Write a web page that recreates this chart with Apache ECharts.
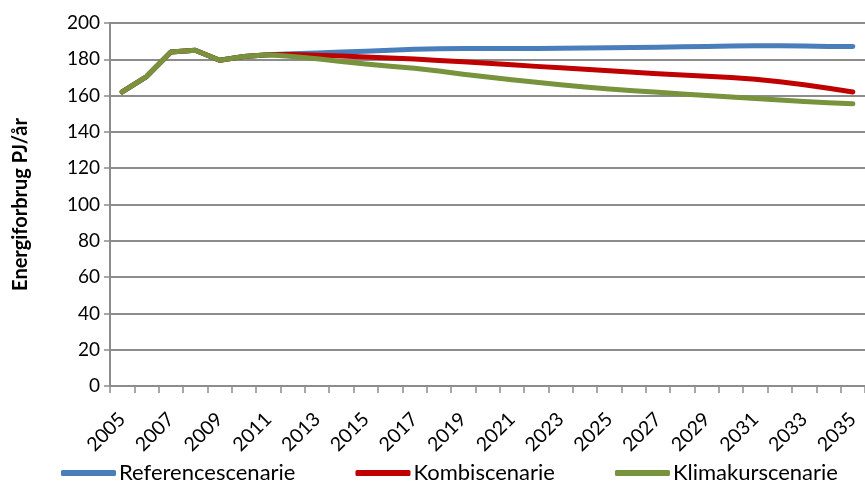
<!DOCTYPE html>
<html>
<head>
<meta charset="utf-8">
<script src="https://cdn.jsdelivr.net/npm/echarts@6/dist/echarts.min.js"></script>
<style>
  html, body { margin: 0; padding: 0; background: #fff; }
  #chart { width: 865px; height: 485px; }
</style>
</head>
<body>
<div id="chart"></div>
<script>
// Years on the category axis
const years = [];
for (let y = 2005; y <= 2035; y++) years.push(String(y));

// Energy use, PJ per year
const referencescenarie = [
  162, 170.5, 184, 185, 179.5, 181.5, 182.5, 183, 183.5, 184, 184.5,
  185, 185.5, 185.8, 185.9, 186, 186, 186, 186.1, 186.2, 186.3,
  186.5, 186.7, 186.9, 187.1, 187.3, 187.5, 187.5, 187.3, 187.1, 187
];
const kombiscenarie = [
  162, 170.5, 184, 185, 179.5, 181.5, 182.5, 182.6, 182.2, 181.8, 181.3,
  180.7, 180.1, 179.4, 178.6, 177.8, 177, 176.1, 175.3, 174.5, 173.7,
  172.9, 172.1, 171.4, 170.7, 170, 169, 167.6, 166, 164, 162
];
const klimakurscenarie = [
  162, 170.5, 184, 185, 179.5, 181.5, 182.5, 181.5, 180.3, 178.8, 177.4,
  176.2, 175.1, 173.6, 171.8, 170.2, 168.7, 167.3, 166, 164.8, 163.7,
  162.7, 161.8, 160.9, 160, 159.2, 158.4, 157.6, 156.8, 156.1, 155.5
];

const seriesNames = ['Referencescenarie', 'Kombiscenarie', 'Klimakurscenarie'];
const seriesColors = ['#4A7EBB', '#C00000', '#77933C'];
const seriesData = [referencescenarie, kombiscenarie, klimakurscenarie];

const font = 'Lato, "Open Sans", sans-serif';
const gridGray = '#8C8C8C';

const chart = echarts.init(document.getElementById('chart'), null, { renderer: 'canvas' });
chart.setOption({
  animation: false,
  backgroundColor: '#ffffff',
  textStyle: { fontFamily: font, color: '#000' },
  grid: { left: 110, right: -9, top: 23, bottom: 99, containLabel: false },
  legend: {
    bottom: -4,
    left: 56,
    itemWidth: 55,
    itemHeight: 6,
    itemGap: 60,
    icon: 'roundRect',
    textStyle: { fontFamily: font, fontSize: 22, color: '#000', padding: [0, 0, 0, -2] },
    data: seriesNames
  },
  xAxis: {
    type: 'category',
    data: years,
    boundaryGap: true,
    axisLine: { lineStyle: { color: gridGray, width: 2 } },
    axisTick: { show: true, interval: 0, length: 7, lineStyle: { color: gridGray, width: 1.5 } },
    axisLabel: {
      interval: 1,
      rotate: 45,
      fontFamily: font,
      fontSize: 19.5,
      color: '#000',
      margin: 30
    },
    splitLine: { show: false }
  },
  yAxis: {
    type: 'value',
    min: 0,
    max: 200,
    interval: 20,
    name: 'Energiforbrug PJ/år',
    nameLocation: 'middle',
    nameRotate: 90,
    nameGap: 79,
    nameTextStyle: { fontFamily: font, fontSize: 20, fontWeight: 'bold', color: '#000' },
    axisLine: { show: true, lineStyle: { color: gridGray, width: 2 } },
    axisTick: { show: true, length: 6, lineStyle: { color: gridGray, width: 1.5 } },
    axisLabel: { fontFamily: font, fontSize: 19, color: '#000', margin: 10 },
    splitLine: { show: true, lineStyle: { color: gridGray, width: 2 } }
  },
  series: seriesNames.map((name, i) => ({
    name: name,
    type: 'line',
    data: seriesData[i],
    symbol: 'none',
    color: seriesColors[i],
    lineStyle: { width: 5, color: seriesColors[i], cap: 'round', join: 'round' },
    z: 2 + i
  }))
});
</script>
</body>
</html>
